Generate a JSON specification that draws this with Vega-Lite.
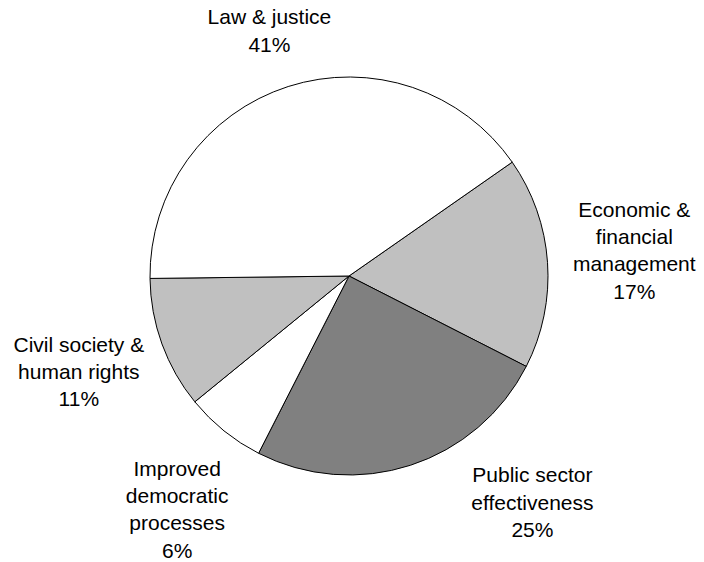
{
  "$schema": "https://vega.github.io/schema/vega-lite/v6.json",
  "width": 698,
  "height": 552,
  "autosize": "none",
  "padding": {"left": 0, "top": 0, "right": 6, "bottom": 10},
  "background": "white",
  "config": {"view": {"stroke": null}},
  "data": {
    "values": [
      {"category": "Economic & financial management", "value": 17.2, "seq": 1, "label": "Economic &\nfinancial\nmanagement\n17%"},
      {"category": "Public sector effectiveness", "value": 25.0, "seq": 2, "label": "Public sector\neffectiveness\n25%"},
      {"category": "Improved democratic processes", "value": 6.6, "seq": 3, "label": "Improved\ndemocratic\nprocesses\n6%"},
      {"category": "Civil society & human rights", "value": 10.7, "seq": 4, "label": "Civil society &\nhuman rights\n11%"},
      {"category": "Law & justice", "value": 40.5, "seq": 5, "label": "Law & justice\n41%"}
    ]
  },
  "layer": [
    {
      "mark": {"type": "arc", "radius": 199, "stroke": "#000000", "strokeWidth": 1},
      "encoding": {
        "theta": {"field": "value", "type": "quantitative", "stack": true, "scale": {"range": [0.9617, 7.2449]}},
        "order": {"field": "seq", "type": "quantitative"},
        "color": {
          "field": "category",
          "type": "nominal",
          "scale": {
            "domain": ["Economic & financial management", "Public sector effectiveness", "Improved democratic processes", "Civil society & human rights", "Law & justice"],
            "range": ["#c0c0c0", "#808080", "#ffffff", "#c0c0c0", "#ffffff"]
          },
          "legend": null
        }
      }
    },
    {
      "mark": {
        "type": "text",
        "radius": 280,
        "font": "Liberation Sans",
        "fontSize": 21,
        "lineHeight": 27.3,
        "lineBreak": "\n",
        "align": "center",
        "baseline": "middle",
        "color": "#000000",
        "dx": {"expr": "datum.seq == 1 ? 6 : datum.seq == 2 ? 97 : datum.seq == 3 ? 4 : datum.seq == 4 ? -7 : 6"},
        "dy": {"expr": "datum.seq == 1 ? -46 : datum.seq == 2 ? -66 : datum.seq == 3 ? -24 : datum.seq == 4 ? -26 : 9"}
      },
      "encoding": {
        "theta": {"field": "value", "type": "quantitative", "stack": true, "scale": {"range": [0.9617, 7.2449]}},
        "order": {"field": "seq", "type": "quantitative"},
        "detail": {"field": "category", "type": "nominal"},
        "text": {"field": "label", "type": "nominal"}
      }
    }
  ]
}
